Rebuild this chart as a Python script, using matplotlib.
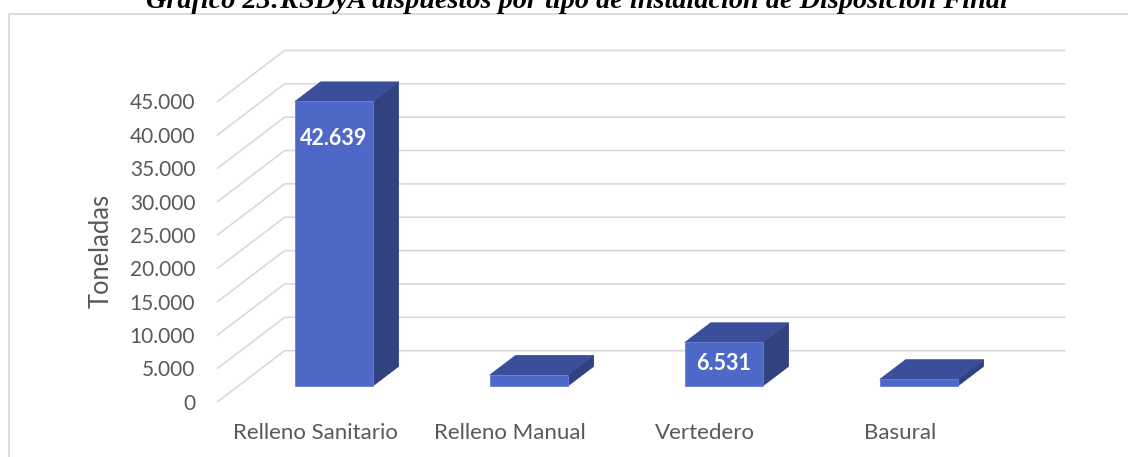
import matplotlib
matplotlib.use('Agg')
import matplotlib.pyplot as plt
from matplotlib.lines import Line2D
from matplotlib.patches import Polygon

categories = ['Relleno Sanitario', 'Relleno Manual', 'Vertedero', 'Basural']
values = [42639, 1650, 6531, 1000]
bar_labels = ['42.639', None, '6.531', None]
yticks = [0, 5000, 10000, 15000, 20000, 25000, 30000, 35000, 40000, 45000]

W, H = 1128, 457
GRID = '#d9d9d9'
TEXT = '#595959'
FRONT = '#4e68c8'
TOP = '#3a4e9a'
SIDE = '#32417f'

# wall depth in data units (fake 3d)
wall_dx = 0.344
wall_dy = 7644
bar_w = 0.40
bar_start_x = 0.28
bar_start_y = 0.308
bar_depth = 0.385
# how far below the bar top the data label sits
label_drop = [5500, None, 3100, None]

plt.rcParams['font.family'] = ['Lato', 'DejaVu Sans']

fig = plt.figure(figsize=(W / 100, H / 100), dpi=100)
left, right, top, bottom = 216, 1065, 50, 401.7
ax = fig.add_axes([left / W, 1 - bottom / H, (right - left) / W, (bottom - top) / H])
ax.set_xlim(-0.508, 3.846)
ax.set_ylim(0, 52712)
for s in ax.spines.values():
    s.set_visible(False)

# floor and back wall lines
ax.set_yticks(yticks)
ax.set_yticklabels([f'{v:,}'.replace(',', '.') for v in yticks], fontsize=15, color=TEXT)
ax.tick_params(axis='y', length=0, pad=15)
for v in yticks:
    ax.plot([-0.5, -0.5 + wall_dx, 3.5 + wall_dx], [v, v + wall_dy, v + wall_dy],
            color=GRID, lw=1.2, zorder=1, clip_on=False)

ax.set_xticks(range(len(categories)))
ax.set_xticklabels(categories, fontsize=16, color=TEXT)
ax.tick_params(axis='x', length=0, pad=15)
ax.set_ylabel('Toneladas', fontsize=18.4, color=TEXT)
ax.yaxis.set_label_coords((114 - left) / (right - left), (bottom - 250.5) / (bottom - top))

for i, v in enumerate(values):
    x0 = i - bar_w / 2 + bar_start_x * wall_dx
    x1 = x0 + bar_w
    y0 = bar_start_y * wall_dy
    y1 = y0 + v
    dx = bar_depth * wall_dx
    dy = bar_depth * wall_dy
    ax.add_patch(Polygon([(x1, y0), (x1 + dx, y0 + dy), (x1 + dx, y1 + dy), (x1, y1)],
                         fc=SIDE, ec=SIDE, lw=0.5, zorder=3))
    ax.add_patch(Polygon([(x0, y1), (x1, y1), (x1 + dx, y1 + dy), (x0 + dx, y1 + dy)],
                         fc=TOP, ec=TOP, lw=0.5, zorder=3))
    ax.add_patch(Polygon([(x0, y0), (x1, y0), (x1, y1), (x0, y1)],
                         fc=FRONT, ec='#6580d8', lw=0.6, zorder=4))
    if bar_labels[i]:
        ax.text((x0 + x1) / 2, y1 - label_drop[i], bar_labels[i], ha='center', va='center',
                fontsize=15.5, fontweight='bold', color='white', zorder=5)

fig.text(576.5 / W, 1 - 8 / H, 'Gráfico 23:RSDyA dispuestos por tipo de instalación de Disposición Final',
         ha='center', va='baseline', fontsize=20.3, fontweight='bold', fontstyle='italic',
         family=['Liberation Serif', 'DejaVu Serif'], color='black')

# chart frame, only left and top show in the crop
fig.add_artist(Line2D([9 / W, 9 / W, 1], [0, 1 - 14 / H, 1 - 14 / H], color='#d9d9d9', lw=1.3))

fig.savefig('out.png', dpi=100, facecolor='white')
